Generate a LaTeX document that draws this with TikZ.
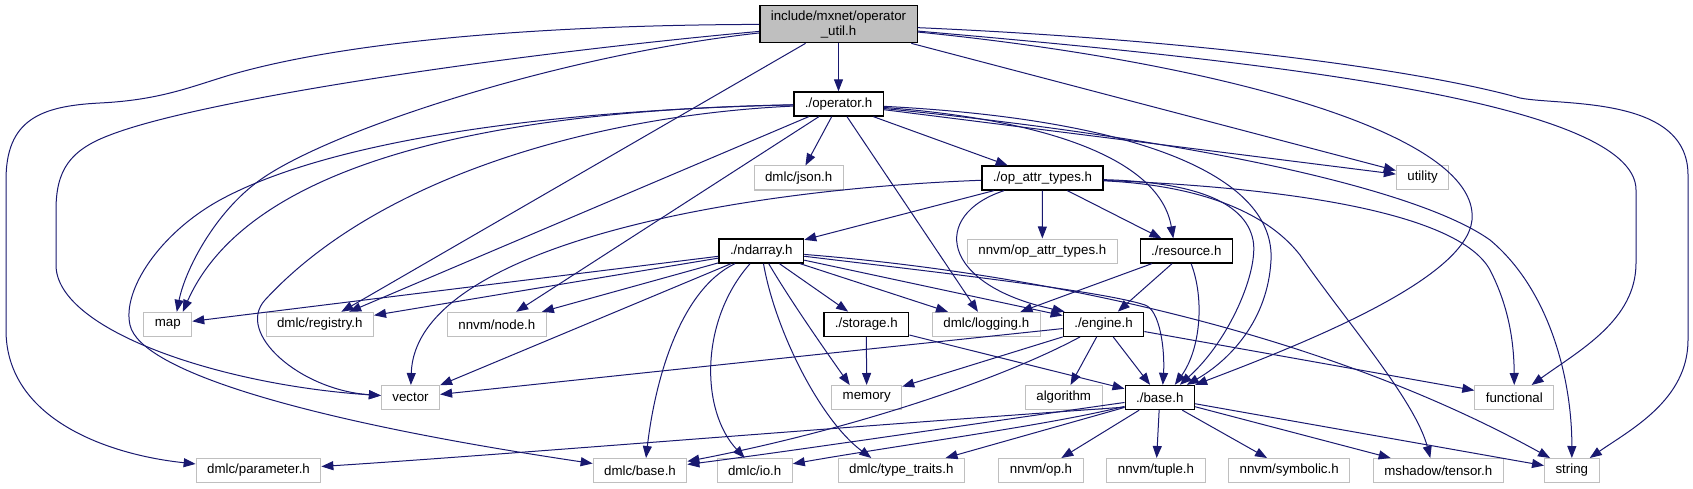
\documentclass[tikz,border=0pt]{standalone}
\usepackage{fontspec}
\setmainfont{Liberation Sans}
\usetikzlibrary{arrows.meta}
\definecolor{edgeblue}{HTML}{191970}
\definecolor{lgray}{HTML}{BFBFBF}
\tikzset{
  hbox/.style={minimum height=24pt, inner xsep=11pt, inner ysep=0pt, font=\fontsize{13.3}{15}\selectfont, text=black},
  proj/.style={hbox, draw=black, line width=1.3pt, fill=white},
  ext/.style={hbox, draw=lgray, line width=1pt, fill=white},
  root/.style={hbox, draw=black, fill=lgray, line width=1.3pt, minimum height=37pt, align=center},
  dep/.style={draw=edgeblue, line width=1pt, -{Triangle[length=12pt,width=9pt]}},
}
\begin{document}
\begin{tikzpicture}[x=1pt,y=-1pt]
\fill[white] (0,0) rectangle (1693,489);
\useasboundingbox (0,0) rectangle (1693,489);
% nodes
\node[root] (inc) at (838.5,24.2) {include/mxnet/operator\\\_util.h};
\node[proj] (opr) at (838.5,104) {./operator.h};
\node[ext] (json) at (798.7,178) {dmlc/json.h};
\node[proj] (oat) at (1042.5,178) {./op\_attr\_types.h};
\node[ext] (util) at (1422.5,177.5) {utility};
\node[proj] (nd) at (761.3,251) {./ndarray.h};
\node[ext] (noat) at (1042.3,251) {nnvm/op\_attr\_types.h};
\node[proj] (res) at (1186.3,251) {./resource.h};
\node[ext] (map) at (167.8,324.3) {map};
\node[ext] (reg) at (319.8,324.3) {dmlc/registry.h};
\node[ext] (nnode) at (496.8,324.3) {nnvm/node.h};
\node[proj] (stor) at (866.3,324.3) {./storage.h};
\node[ext] (logg) at (986.3,324.3) {dmlc/logging.h};
\node[proj] (eng) at (1103.5,324.3) {./engine.h};
\node[ext] (vec) at (410.5,397.5) {vector};
\node[ext] (mem) at (866.7,397.5) {memory};
\node[ext] (alg) at (1063.7,397.5) {algorithm};
\node[proj] (bas) at (1159.8,397.5) {./base.h};
\node[ext] (func) at (1514.3,397.5) {functional};
\node[ext] (param) at (258.5,470.5) {dmlc/parameter.h};
\node[ext] (dbase) at (640,470.5) {dmlc/base.h};
\node[ext] (dio) at (754.7,470.5) {dmlc/io.h};
\node[ext] (tt) at (901.3,470.5) {dmlc/type\_traits.h};
\node[ext] (nop) at (1041,470.5) {nnvm/op.h};
\node[ext] (tup) at (1156,470.5) {nnvm/tuple.h};
\node[ext] (sym) at (1289.2,470.5) {nnvm/symbolic.h};
\node[ext] (tens) at (1438.3,470.5) {mshadow/tensor.h};
\node[ext] (str) at (1571.8,470.5) {string};
% include/mxnet/operator_util.h
\draw[dep] (inc) -- (opr);
\draw[dep] (inc) .. controls (560,55) and (330,130) .. (260,180) .. controls (215,212) and (185,270) .. ([xshift=9pt]map.north);
\draw[dep] (inc) -- (reg);
\draw[dep] (inc) -- (util);
\draw[dep] (inc) .. controls (1200,60) and (1480,130) .. (1472,220) .. controls (1466,280) and (1300,345) .. (bas.north east);
\draw[dep] (inc) .. controls (1250,60) and (1636,100) .. (1636,190) -- (1636,263) .. controls (1636,320) and (1580,350) .. (func);
\draw[dep] (inc) .. controls (1200,40) and (1420,70) .. (1520,98) .. controls (1560,106) and (1688,95) .. (1688,175) -- (1688,340) .. controls (1688,400) and (1630,430) .. (str);
\draw[dep] (inc) .. controls (500,55) and (200,100) .. (110,135) .. controls (70,150) and (56,170) .. (56,210) -- (56,265) .. controls (56,330) and (220,385) .. (vec);
\draw[dep] (inc) .. controls (550,25) and (350,40) .. (230,75) .. controls (190,87) and (160,100) .. (100,103) .. controls (40,106) and (6,120) .. (6,180) -- (6,330) .. controls (6,420) and (110,455) .. (param);
% ./operator.h
\draw[dep] (opr) -- (json);
\draw[dep] (opr) -- (oat);
\draw[dep] (opr) .. controls (500,110) and (250,160) .. ([xshift=15pt]map.north);
\draw[dep] (opr) -- (reg);
\draw[dep] (opr) -- (nnode);
\draw[dep] (opr) .. controls (600,115) and (380,175) .. (265,300) .. controls (235,333) and (300,390) .. (vec);
\draw[dep] (opr) .. controls (550,110) and (330,140) .. (220,200) .. controls (160,233) and (122,290) .. (130,325) .. controls (140,370) and (300,420) .. (dbase);
\draw[dep] (opr) -- (logg);
\draw[dep] (opr) -- (util);
\draw[dep] (opr) .. controls (1200,140) and (1420,190) .. (1490,240) .. controls (1550,290) and (1572,380) .. (str);
\draw[dep] (opr) .. controls (1150,120) and (1275,180) .. (1271,260) .. controls (1268,320) and (1230,360) .. ([xshift=27pt]bas.north);
\draw[dep] (opr) .. controls (1050,120) and (1160,160) .. ([xshift=-13pt]res.north);
% ./op_attr_types.h
\draw[dep] (oat) -- (noat);
\draw[dep] (oat) -- (res);
\draw[dep] (oat) -- (nd);
\draw[dep] (oat) .. controls (720,190) and (415,250) .. (vec);
\draw[dep] (oat) .. controls (930,215) and (940,285) .. ([xshift=2pt]eng.north west);
\draw[dep] (oat) .. controls (1190,182) and (1245,200) .. (1253,240) .. controls (1259,270) and (1230,340) .. ([xshift=20pt]bas.north);
\draw[dep] (oat) .. controls (1195,185) and (1265,210) .. (1300,255) .. controls (1345,320) and (1415,400) .. ([xshift=-8pt]tens.north);
\draw[dep] (oat) .. controls (1300,188) and (1460,215) .. (1490,270) .. controls (1508,305) and (1514,340) .. (func);
% ./ndarray.h
\draw[dep] (nd) -- (map);
\draw[dep] (nd) -- (reg);
\draw[dep] (nd) -- (nnode);
\draw[dep] (nd) -- (vec);
\draw[dep] (nd) -- (stor);
\draw[dep] (nd) -- (logg);
\draw[dep] (nd) -- (eng);
\draw[dep] (nd) .. controls (900,268) and (1100,290) .. (1145,305) .. controls (1160,310) and (1165,350) .. ([xshift=3pt]bas.north);
\draw[dep] (nd) .. controls (1000,270) and (1300,320) .. ([xshift=6pt]str.north west);
\draw[dep] (nd) .. controls (790,300) and (825,350) .. ([xshift=-17pt]mem.north);
\draw[dep] (nd) .. controls (680,290) and (655,380) .. ([xshift=6pt]dbase.north);
\draw[dep] (nd) .. controls (700,320) and (700,410) .. ([xshift=-10pt]dio.north);
\draw[dep] (nd) .. controls (775,330) and (820,420) .. ([xshift=-30pt]tt.north);
% ./storage.h
\draw[dep] (stor) -- (mem);
\draw[dep] (stor) -- (bas);
% ./resource.h
\draw[dep] (res) -- (logg);
\draw[dep] (res) -- (eng);
\draw[dep] (res) .. controls (1205,300) and (1200,350) .. ([xshift=15pt]bas.north);
% ./engine.h
\draw[dep] (eng) -- (vec);
\draw[dep] (eng) -- (mem);
\draw[dep] (eng) -- (alg);
\draw[dep] (eng) -- (bas);
\draw[dep] (eng) -- (func);
\draw[dep] (eng) .. controls (1000,380) and (850,430) .. (dbase);
% ./base.h
\draw[dep] ([yshift=3pt]bas.south west) .. controls (800,430) and (500,455) .. (param);
\draw[dep] (bas) .. controls (1000,420) and (800,450) .. (dbase);
\draw[dep] (bas) .. controls (1050,425) and (900,445) .. (dio);
\draw[dep] (bas) -- (tt);
\draw[dep] (bas) -- (nop);
\draw[dep] (bas) -- (tup);
\draw[dep] (bas) -- (sym);
\draw[dep] (bas) -- (tens);
\draw[dep] (bas) -- (str);
\end{tikzpicture}
\end{document}
